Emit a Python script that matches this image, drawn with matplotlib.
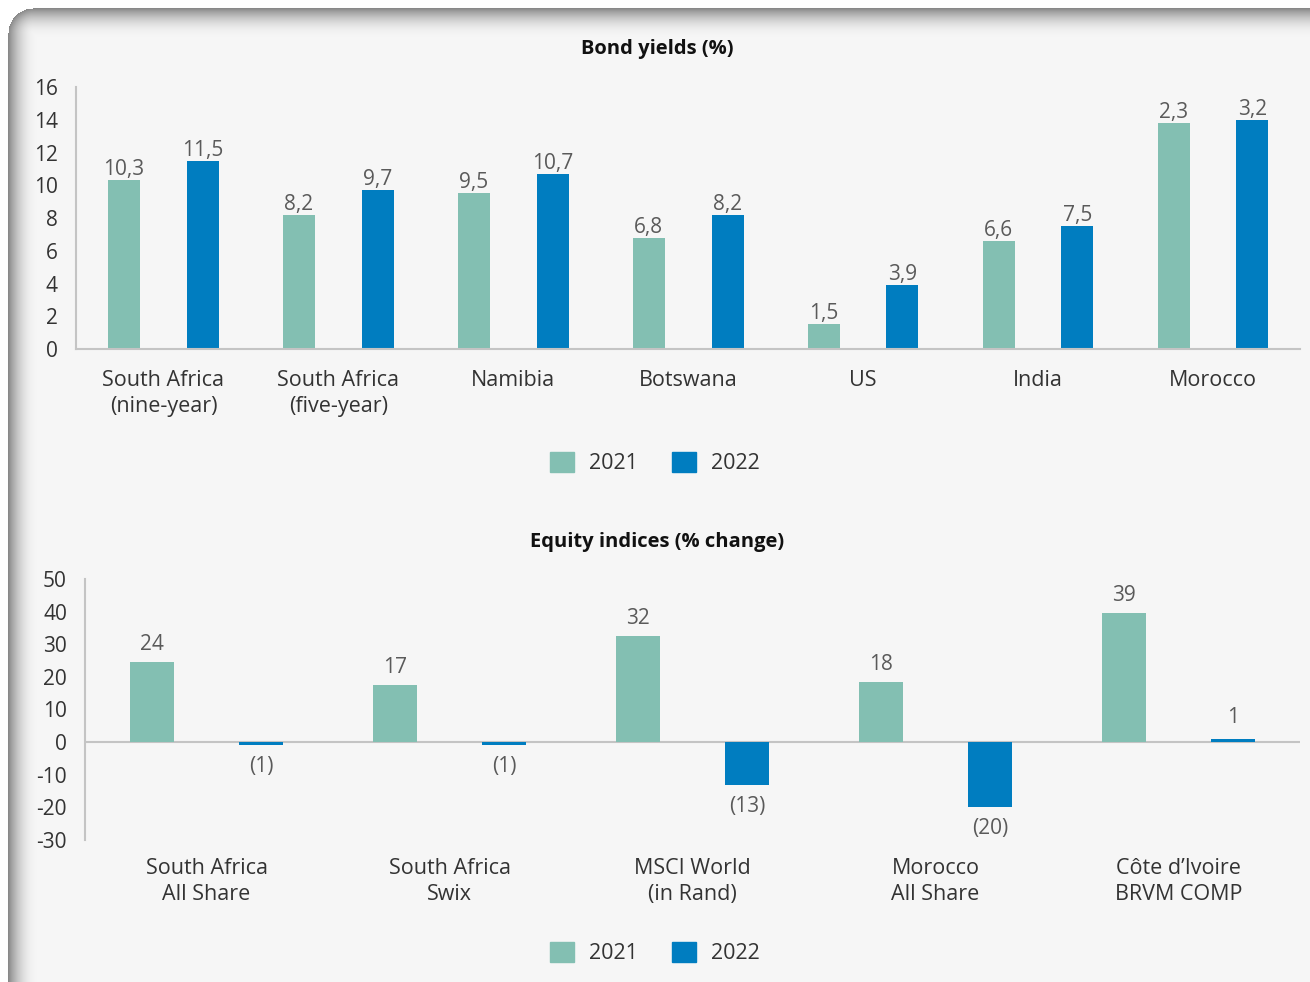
import numpy as np
import matplotlib
matplotlib.use("Agg")
import matplotlib.pyplot as plt
from matplotlib.patches import Patch

plt.rcParams['font.family'] = ['Open Sans', 'DejaVu Sans']
plt.rcParams['axes.unicode_minus'] = False

# bond yields
bond_cats = ["South Africa\n(nine-year)", "South Africa\n(five-year)", "Namibia",
             "Botswana", "US", "India", "Morocco"]
bond_2021 = [10.3, 8.2, 9.5, 6.8, 1.5, 6.6, 13.8]
bond_2022 = [11.5, 9.7, 10.7, 8.2, 3.9, 7.5, 14.0]
bond_lab_2021 = ["10,3", "8,2", "9,5", "6,8", "1,5", "6,6", "2,3"]
bond_lab_2022 = ["11,5", "9,7", "10,7", "8,2", "3,9", "7,5", "3,2"]

# equity indices
eq_cats = ["South Africa\nAll Share", "South Africa\nSwix", "MSCI World\n(in Rand)",
           "Morocco\nAll Share", "Côte d\u2019Ivoire\nBRVM COMP"]
eq_2021 = [24.5, 17.5, 32.5, 18.5, 39.5]
eq_2022 = [-1, -1, -13, -20, 1]
eq_lab_2021 = ["24", "17", "32", "18", "39"]
eq_lab_2022 = ["(1)", "(1)", "(13)", "(20)", "1"]

c21 = '#83bfb2'
c22 = '#007dc0'
axis_col = '#c4c4c4'
tick_col = '#333333'
lab_col = '#5a5a5a'
fs = 15
fs_cat = 15.5

W, H = 1310, 982
fig = plt.figure(figsize=(W / 100, H / 100), dpi=100)

# panel background with shadow on top/left
bg = fig.add_axes([0, 0, 1, 1], zorder=-10)
yy, xx = np.mgrid[0:H, 0:W].astype(float)
r = 25.0
x0, y0 = 8.0, 8.0
d = np.minimum(xx - x0, yy - y0)
corner = (xx < x0 + r) & (yy < y0 + r)
d[corner] = r - np.sqrt((xx[corner] - x0 - r) ** 2 + (yy[corner] - y0 - r) ** 2)
t = np.clip(d / 30.0, 0, 1)
v = 0.965 - 0.43 * (1 - t) ** 2.2
v[d < 0] = 1.0
bg.imshow(np.dstack([v, v, v]), aspect='auto', extent=[0, 1, 0, 1])
bg.axis('off')


def style(ax):
    ax.set_facecolor('none')
    for s in ['top', 'right']:
        ax.spines[s].set_visible(False)
    ax.spines['left'].set_color(axis_col)
    ax.spines['left'].set_linewidth(1.5)
    ax.tick_params(length=0, labelsize=fs, labelcolor=tick_col)


# top chart
ax1 = fig.add_axes([0.058, 0.6446, 0.9347, 0.2668])
style(ax1)
x = np.arange(len(bond_cats))
b1 = ax1.bar(x - 0.225, bond_2021, 0.183, color=c21)
b2 = ax1.bar(x + 0.225, bond_2022, 0.183, color=c22)
ax1.bar_label(b1, labels=bond_lab_2021, padding=0, fontsize=fs, color=lab_col)
ax1.bar_label(b2, labels=bond_lab_2022, padding=0, fontsize=fs, color=lab_col)
ax1.set_xlim(-0.5, len(bond_cats) - 0.5)
ax1.set_ylim(0, 16)
ax1.set_yticks(range(0, 17, 2))
ax1.set_xticks(x)
ax1.set_xticklabels(bond_cats, fontsize=fs_cat, linespacing=1.3, color=tick_col)
ax1.tick_params(axis='y', pad=13)
ax1.tick_params(axis='x', pad=15)
ax1.spines['bottom'].set_color(axis_col)
ax1.spines['bottom'].set_linewidth(1.5)
fig.text(0.5015, 1 - 49 / H, "Bond yields (%)", ha='center', va='center',
         fontsize=14.5, fontweight='bold', color='#111111')

# bottom chart
ax2 = fig.add_axes([0.0649, 0.1446, 0.9275, 0.2658])
style(ax2)
x = np.arange(len(eq_cats))
e1 = ax2.bar(x - 0.225, eq_2021, 0.18, color=c21)
e2 = ax2.bar(x + 0.225, eq_2022, 0.18, color=c22)
ax2.bar_label(e1, labels=eq_lab_2021, padding=5, fontsize=fs, color=lab_col)
ax2.bar_label(e2, labels=eq_lab_2022, padding=8, fontsize=fs, color=lab_col)
ax2.set_xlim(-0.5, len(eq_cats) - 0.5)
ax2.set_ylim(-30, 50)
ax2.set_yticks(range(-30, 51, 10))
ax2.set_xticks(x)
ax2.set_xticklabels(eq_cats, fontsize=fs_cat, linespacing=1.3, color=tick_col)
ax2.tick_params(axis='y', pad=13)
ax2.tick_params(axis='x', pad=13)
ax2.spines['bottom'].set_visible(False)
ax2.axhline(0, color=axis_col, lw=1.5, zorder=0)
fig.text(0.5015, 1 - 542 / H, "Equity indices (% change)", ha='center', va='center',
         fontsize=14.5, fontweight='bold', color='#111111')

handles = [Patch(color=c21, label='2021'), Patch(color=c22, label='2022')]
for ypos in [1 - 463 / H, 1 - 953 / H]:
    fig.legend(handles=handles, loc='center', bbox_to_anchor=(0.5, ypos), ncol=2,
               frameon=False, fontsize=fs_cat, handlelength=1.1, handleheight=1.1,
               handletextpad=0.7, columnspacing=1.6, labelcolor=tick_col)

fig.savefig('out.png', dpi=100)
